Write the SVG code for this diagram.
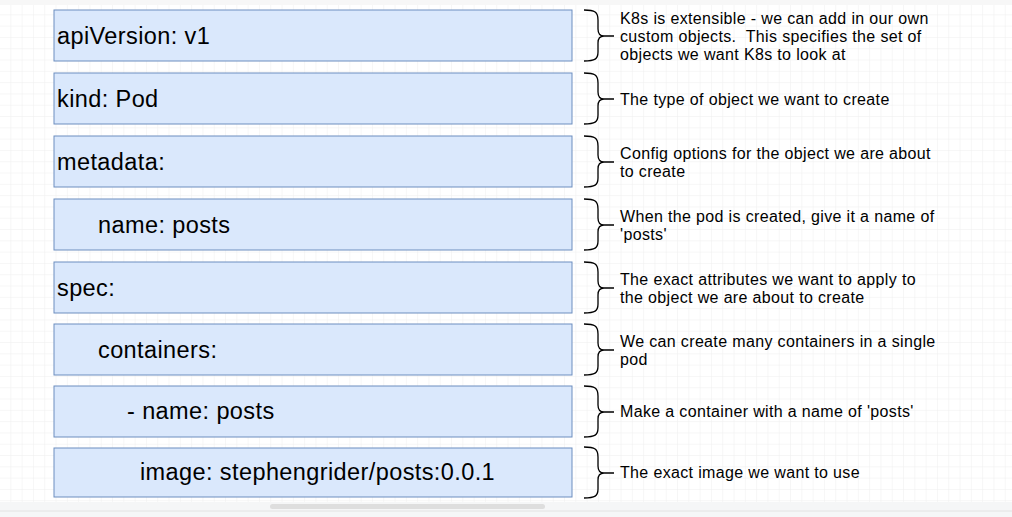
<svg xmlns="http://www.w3.org/2000/svg" width="1012" height="517" viewBox="0 0 1012 517">
<defs>
<pattern id="grid" width="11.3" height="11.3" patternUnits="userSpaceOnUse" x="0" y="4">
<path d="M11.3 0 V11.3 H0" fill="none" stroke="#eeeeee" stroke-width="1"/>
</pattern>
<style>
.box{fill:#dae8fc;stroke:#6c8ebf;stroke-width:1}
.lbl{font-family:"Liberation Sans",Arial,sans-serif;font-size:23.5px;letter-spacing:0.4px;fill:#000}
.desc{font-family:"Liberation Sans",Arial,sans-serif;font-size:16px;letter-spacing:0.35px;fill:#000}
.brace{fill:none;stroke:#000;stroke-width:1.3}
</style>
</defs>
<rect x="0" y="0" width="1012" height="517" fill="#ffffff"/>
<rect x="0" y="5" width="1012" height="497" fill="url(#grid)"/>
<rect x="0" y="0" width="1012" height="5" fill="#f7f7f7"/>
<rect x="0" y="502" width="1012" height="15" fill="#f5f6f7"/>
<line x1="0" y1="511" x2="1012" y2="511" stroke="#e2e2e2"/>
<rect x="270" y="504" width="275" height="5" rx="2.5" fill="#dedede"/>

<g id="n1"><rect class="box" x="54" y="10" width="518" height="51"/><text class="lbl" x="57" y="44">apiVersion: v1</text></g>
<g id="n2"><rect class="box" x="54" y="73" width="518" height="51"/><text class="lbl" x="57" y="107">kind: Pod</text></g>
<g id="n3"><rect class="box" x="54" y="136" width="518" height="51"/><text class="lbl" x="57" y="170">metadata:</text></g>
<g id="n4"><rect class="box" x="54" y="199" width="518" height="51"/><text class="lbl" x="98" y="233">name: posts</text></g>
<g id="n5"><rect class="box" x="54" y="262" width="518" height="51"/><text class="lbl" x="57" y="296">spec:</text></g>
<g id="n6"><rect class="box" x="54" y="324" width="518" height="51"/><text class="lbl" x="98" y="358">containers:</text></g>
<g id="n7"><rect class="box" x="54" y="386" width="518" height="51"/><text class="lbl" x="127" y="419">- name: posts</text></g>
<g id="n8"><rect class="box" x="54" y="448" width="518" height="49"/><text class="lbl" x="140" y="480">image: stephengrider/posts:0.0.1</text></g>

<g id="connectors">
<path class="brace" d="M584 10 C595 10 598 12 598 20 L598 29 C598 34 600 36 604 36 C600 36 598 38 598 43 L598 52 C598 59 595 61 584 61 M604 36 L614 36"/>
<path class="brace" d="M584 73 C595 73 598 75 598 83 L598 92 C598 97 600 99 604 99 C600 99 598 101 598 106 L598 115 C598 122 595 124 584 124 M604 99 L614 99"/>
<path class="brace" d="M584 136 C595 136 598 138 598 146 L598 155 C598 160 600 162 604 162 C600 162 598 164 598 169 L598 178 C598 185 595 187 584 187 M604 162 L614 162"/>
<path class="brace" d="M584 199 C595 199 598 201 598 209 L598 218 C598 223 600 225 604 225 C600 225 598 227 598 232 L598 241 C598 248 595 250 584 250 M604 225 L614 225"/>
<path class="brace" d="M584 262 C595 262 598 264 598 272 L598 281 C598 286 600 288 604 288 C600 288 598 290 598 295 L598 304 C598 311 595 313 584 313 M604 288 L614 288"/>
<path class="brace" d="M584 324 C595 324 598 326 598 334 L598 343 C598 348 600 350 604 350 C600 350 598 352 598 357 L598 366 C598 373 595 375 584 375 M604 350 L614 350"/>
<path class="brace" d="M584 386 C595 386 598 388 598 396 L598 405 C598 410 600 412 604 412 C600 412 598 414 598 419 L598 428 C598 435 595 437 584 437 M604 412 L614 412"/>
<path class="brace" d="M584 447 C595 447 598 449 598 457 L598 466 C598 471 600 473 604 473 C600 473 598 475 598 480 L598 489 C598 496 595 498 584 498 M604 473 L614 473"/>
</g>

<g id="descriptions">
<text class="desc" x="620" y="24">K8s is extensible - we can add in our own</text>
<text class="desc" x="620" y="42" xml:space="preserve">custom objects.  This specifies the set of</text>
<text class="desc" x="620" y="60">objects we want K8s to look at</text>
<text class="desc" x="620" y="105">The type of object we want to create</text>
<text class="desc" x="620" y="159">Config options for the object we are about</text>
<text class="desc" x="620" y="177">to create</text>
<text class="desc" x="620" y="222">When the pod is created, give it a name of</text>
<text class="desc" x="620" y="240">'posts'</text>
<text class="desc" x="620" y="285">The exact attributes we want to apply to</text>
<text class="desc" x="620" y="303">the object we are about to create</text>
<text class="desc" x="620" y="347">We can create many containers in a single</text>
<text class="desc" x="620" y="365">pod</text>
<text class="desc" x="620" y="417">Make a container with a name of 'posts'</text>
<text class="desc" x="620" y="478">The exact image we want to use</text>
</g>
</svg>
